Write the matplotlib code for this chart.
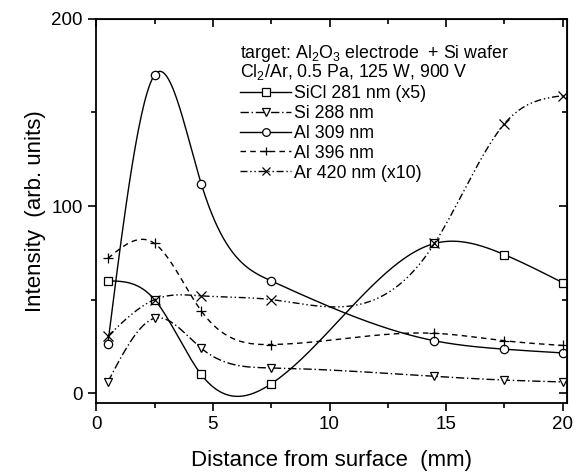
import numpy as np
import matplotlib
matplotlib.use("Agg")
from matplotlib import pyplot as plt
from matplotlib.ticker import MultipleLocator

plt.rcParams['font.family'] = ['Liberation Sans', 'DejaVu Sans']
plt.rcParams['mathtext.fontset'] = 'custom'
plt.rcParams['mathtext.rm'] = 'Liberation Sans'

# distance from surface (mm)
dist = [0.5, 2.5, 4.5, 7.5, 14.5, 17.5, 20]

# intensities
sicl_281 = [60, 50, 10, 5, 80, 74, 59]
si_288 = [6, 40, 24, 13.5, 9, 7, 6]
al_309 = [26.5, 170, 112, 60, 28, 23.5, 21.5]
al_396 = [72, 80, 44, 26, 32, 28, 25.5]
ar_420 = [30.5, 50, 52, 50, 80, 144, 159]

labels = ["SiCl 281 nm (x5)", "Si 288 nm", "Al 309 nm", "Al 396 nm", "Ar 420 nm (x10)"]


def spline(x, y, n=300):
    # natural cubic spline, like the "spline" connect option
    x = np.asarray(x, float)
    y = np.asarray(y, float)
    k = len(x)
    h = np.diff(x)
    A = np.zeros((k, k))
    b = np.zeros(k)
    A[0, 0] = 1
    A[-1, -1] = 1
    for i in range(1, k - 1):
        A[i, i - 1] = h[i - 1]
        A[i, i] = 2 * (h[i - 1] + h[i])
        A[i, i + 1] = h[i]
        b[i] = 3 * ((y[i + 1] - y[i]) / h[i] - (y[i] - y[i - 1]) / h[i - 1])
    c = np.linalg.solve(A, b)
    xs = np.linspace(x[0], x[-1], n)
    ys = np.empty_like(xs)
    for j, xv in enumerate(xs):
        i = min(np.searchsorted(x, xv, side="right") - 1, k - 2)
        bb = (y[i + 1] - y[i]) / h[i] - h[i] * (2 * c[i] + c[i + 1]) / 3
        d = (c[i + 1] - c[i]) / (3 * h[i])
        t = xv - x[i]
        ys[j] = y[i] + bb * t + c[i] * t ** 2 + d * t ** 3
    return xs, ys


fig = plt.figure(figsize=(5.76, 4.72), dpi=100)
ax = fig.add_axes([0.167, 0.146, 0.817, 0.814])

series = [sicl_281, si_288, al_309, al_396, ar_420]
styles = ["-", (0, (6, 2, 1, 2)), "-", (0, (4, 3)), (0, (5, 2, 1, 2, 1, 2))]
markers = ["s", "v", "o", "+", "x"]

for vals, ls, mk, lab in zip(series, styles, markers, labels):
    xs, ys = spline(dist, vals)
    ax.plot(xs, ys, color="black", lw=1.0, ls=ls)
    ax.plot(dist, vals, ls="none", marker=mk, ms=6.5 if mk in "+x" else 6,
            mfc="white", mec="black", mew=0.9)
    # legend proxy
    ax.plot([], [], color="black", lw=1.0, ls=ls, marker=mk, ms=5.5,
            mfc="white", mec="black", mew=0.9, label=lab)

ax.set_xlim(0, 20.17)
ax.set_ylim(-5.3, 200)
ax.xaxis.set_major_locator(MultipleLocator(5))
ax.xaxis.set_minor_locator(MultipleLocator(2.5))
ax.yaxis.set_major_locator(MultipleLocator(100))
ax.yaxis.set_minor_locator(MultipleLocator(50))
ax.tick_params(which="both", direction="out", labelsize=13.5, width=1.2)
ax.tick_params(which="major", length=6)
ax.tick_params(which="minor", length=3.5)
for s in ax.spines.values():
    s.set_linewidth(1.3)

ax2 = ax.secondary_xaxis("top")
ax2.xaxis.set_major_locator(MultipleLocator(5))
ax2.xaxis.set_minor_locator(MultipleLocator(2.5))
ax2.tick_params(which="both", direction="in", labeltop=False, width=1.2)
ax2.tick_params(which="major", length=6)
ax2.tick_params(which="minor", length=3.5)
ay2 = ax.secondary_yaxis("right")
ay2.yaxis.set_major_locator(MultipleLocator(100))
ay2.yaxis.set_minor_locator(MultipleLocator(50))
ay2.tick_params(which="both", direction="in", labelright=False, width=1.2)
ay2.tick_params(which="major", length=6)
ay2.tick_params(which="minor", length=3.5)

ax.set_xlabel("Distance from surface  (mm)", fontsize=16, labelpad=12)
ax.set_ylabel("Intensity  (arb. units)", fontsize=16, labelpad=4)

ax.text(0.306, 0.911, "target: Al$_2$O$_3$ electrode  + Si wafer", transform=ax.transAxes,
        fontsize=12.8, va="center")
ax.text(0.306, 0.862, "Cl$_2$/Ar, 0.5 Pa, 125 W, 900 V", transform=ax.transAxes,
        fontsize=12.8, va="center")
ax.legend(loc="upper left", bbox_to_anchor=(0.291, 0.846), frameon=False, fontsize=12.8,
          handlelength=2.85, handletextpad=0.2, labelspacing=0.16, borderaxespad=0)

fig.savefig("out.png", dpi=100)
